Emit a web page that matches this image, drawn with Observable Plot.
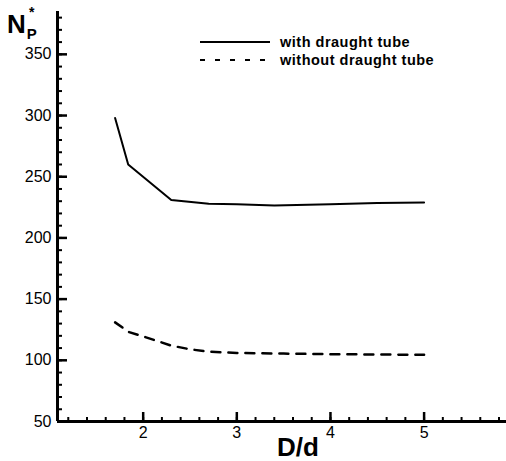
<!DOCTYPE html>
<html>
<head>
<meta charset="utf-8">
<script src="https://cdn.jsdelivr.net/npm/d3@7"></script>
<script src="https://cdn.jsdelivr.net/npm/@observablehq/plot@0.6"></script>
<style>
  html, body { margin: 0; padding: 0; background: #fff; }
  #wrap { position: relative; width: 506px; height: 461px; font-family: "Liberation Sans", Arial, sans-serif; }
  #wrap svg { position: absolute; left: 0; top: 0; }
  .ylab { position: absolute; left: 7px; top: 9px; font-weight: bold; color: #000; }
  .legend { position: absolute; left: 198px; top: 33px; font-weight: bold; font-size: 14.5px; letter-spacing: 0.5px; color: #000; }
  .legend div { display: flex; align-items: center; height: 18px; }
  .legend svg { position: static !important; margin-right: 8px; }
</style>
</head>
<body>
<div id="wrap"></div>
<script>
// Series: with draught tube
const withX = [1.7, 1.84, 2.3, 2.7, 3.0, 3.4, 4.0, 4.5, 5.0];
const withY = [298, 260, 231, 228, 227.5, 226.5, 227.5, 228.5, 229];
// Series: without draught tube
const withoutX = [1.7, 1.85, 2.0, 2.3, 2.5, 2.7, 3.0, 3.5, 4.0, 5.0];
const withoutY = [131, 123, 119.5, 112, 109, 107, 106, 105.5, 105, 104.5];
// Tick values
const xMajor = [2, 3, 4, 5];
const xMinor = d3.range(1.2, 5.81, 0.2).map(v => +v.toFixed(1));
const yMajor = [50, 100, 150, 200, 250, 300, 350];
const yMinor = d3.range(60, 381, 10);
const seriesNames = ["with draught tube", "without draught tube"];

const xDomain = [1.085, 5.88];
const yDomain = [50, 385];

const withData = withX.map((x, i) => ({x, y: withY[i]}));
const withoutData = withoutX.map((x, i) => ({x, y: withoutY[i]}));

const W = 506, H = 461, mL = 57, mR = 0, mT = 11, mB = 40;
const plotW = W - mL - mR, plotH = H - mT - mB;

const chart = Plot.plot({
  width: W, height: H,
  marginLeft: mL, marginRight: mR, marginTop: mT, marginBottom: mB,
  style: {fontFamily: "'Liberation Sans', Arial, sans-serif", background: "#fff", overflow: "visible"},
  x: {domain: xDomain},
  y: {domain: yDomain},
  marks: [
    Plot.axisX({ticks: xMajor, tickSize: 0, tickPadding: 5, fontSize: 16, label: null, tickFormat: d3.format("d")}),
    Plot.axisY({ticks: yMajor, tickSize: 0, tickPadding: 6, fontSize: 16, label: null, tickFormat: d3.format("d")}),
    Plot.tickY(yMinor, {y: d => d, insetRight: plotW - 5, stroke: "#000", strokeWidth: 2}),
    Plot.tickY(yMajor, {y: d => d, insetRight: plotW - 10, stroke: "#000", strokeWidth: 2.5}),
    Plot.tickX(xMinor, {x: d => d, insetTop: plotH - 4, stroke: "#000", strokeWidth: 2}),
    Plot.tickX(xMajor, {x: d => d, insetTop: plotH - 9, stroke: "#000", strokeWidth: 2.5}),
    Plot.ruleX([xDomain[0]], {stroke: "#000", strokeWidth: 3}),
    Plot.ruleY([yDomain[0]], {stroke: "#000", strokeWidth: 3}),
    Plot.line(withData, {x: "x", y: "y", stroke: "#000", strokeWidth: 2}),
    Plot.line(withoutData, {x: "x", y: "y", stroke: "#000", strokeWidth: 2.5, strokeDasharray: "9,8"})
  ]
});

const wrap = document.getElementById("wrap");
wrap.appendChild(chart);

// X axis label
const xl = document.createElement("div");
xl.textContent = "D/d";
xl.style.cssText = "position:absolute;left:277px;top:434px;font-weight:bold;font-size:26px;line-height:26px;";
wrap.appendChild(xl);

// Y axis label N_P^*
const yl = document.createElement("div");
yl.className = "ylab";
yl.innerHTML = '<span style="font-size:26px;">N</span><span style="position:relative;font-size:15px;top:6px;left:1px;">P</span><span style="position:absolute;left:22px;top:-5px;font-size:14px;">*</span>';
wrap.appendChild(yl);

// Legend
const lg = document.createElement("div");
lg.className = "legend";
lg.innerHTML =
  `<div><svg width="74" height="6"><line x1="2" x2="72" y1="3" y2="3" stroke="#000" stroke-width="2"/></svg>${seriesNames[0]}</div>` +
  `<div><svg width="74" height="6"><line x1="2" x2="72" y1="3" y2="3" stroke="#000" stroke-width="2" stroke-dasharray="5,10"/></svg>${seriesNames[1]}</div>`;
wrap.appendChild(lg);
</script>
</body>
</html>
